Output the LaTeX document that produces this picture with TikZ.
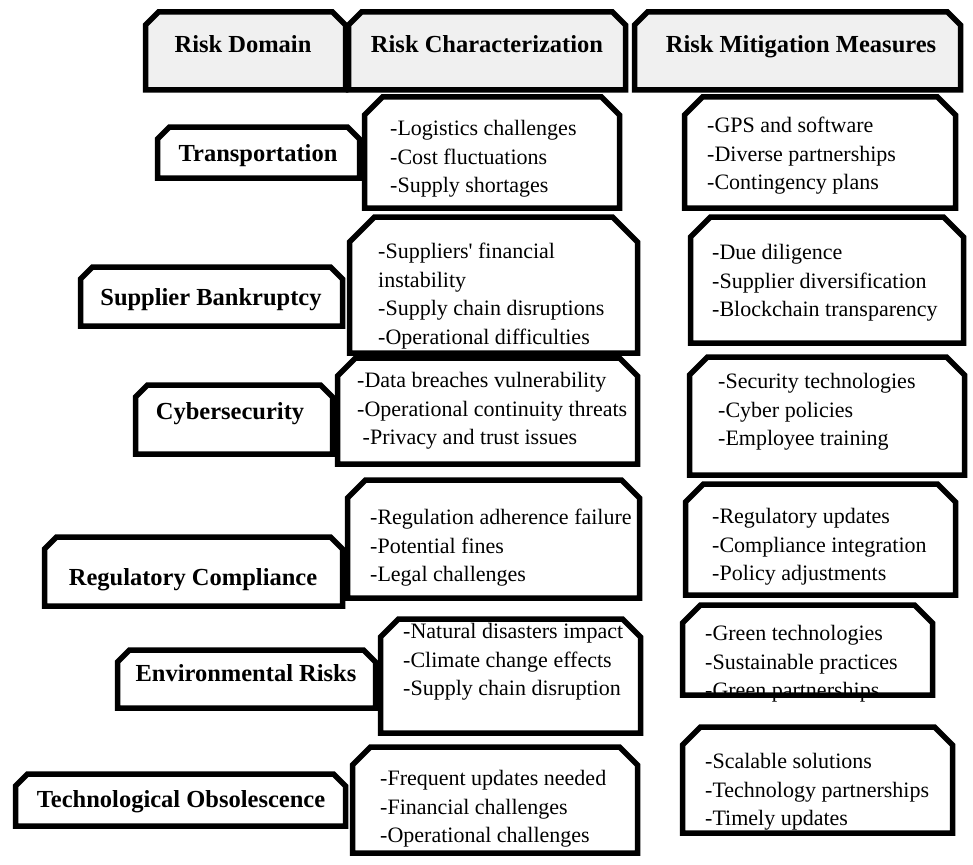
\documentclass[tikz,border=0pt]{standalone}
\usepackage{fontspec}
\setmainfont{Liberation Serif}
\tikzset{
  area/.style={inner sep=0pt, outer sep=0pt, draw=none},
  boxline/.style={draw=black, line width=5.5pt, line join=miter},
  hdrtext/.style={font=\fontsize{24.5}{28}\selectfont\bfseries, inner sep=0pt, text height=17pt, text depth=5pt},
  labtext/.style={font=\fontsize{24.5}{28}\selectfont\bfseries, inner sep=0pt, text height=17pt, text depth=5pt},
  bodytext/.style={font=\fontsize{22}{28.5}\selectfont, align=left, anchor=west, inner sep=0pt},
}
\definecolor{hdrgray}{HTML}{F0F0F0}
\newcommand{\chbox}[3]{%
  \filldraw[boxline, fill=#3] ([yshift=-#2pt]#1.north west) -- ([xshift=#2pt]#1.north west) -- ([xshift=-#2pt]#1.north east) -- ([yshift=-#2pt]#1.north east) -- (#1.south east) -- (#1.south west) -- cycle;}
\newcommand{\areanode}[5]{% name, cx, cy, w, h
  \node[area, minimum width=#4pt, minimum height=#5pt] (#1) at (#2,#3) {};}
\begin{document}
\begin{tikzpicture}[x=1pt, y=-1pt]
\useasboundingbox[fill=white] (0,0) rectangle (973,864);
% area nodes
\areanode{h1}{245.5}{51}{200}{78}
\areanode{h2}{487}{51}{277}{78}
\areanode{h3}{797.5}{51}{326}{78}
\areanode{trans}{258.5}{152.5}{202}{51}
\areanode{char1}{492}{152.5}{255}{111}
\areanode{mit1}{820}{152.5}{271}{111}
\areanode{sb}{211.5}{296.5}{262}{59}
\areanode{char2}{493.5}{285}{288}{136}
\areanode{mit2}{827}{280}{273}{126}
\areanode{cyber}{234}{419.5}{197}{69}
\areanode{char3}{487.5}{411}{300}{106}
\areanode{mit3}{827}{416}{275}{118}
\areanode{reg}{193.5}{571.5}{298}{69}
\areanode{char4}{493.5}{539}{292}{118}
\areanode{mit4}{820.5}{539.5}{270}{111}
\areanode{env}{246.5}{679}{258}{58}
\areanode{char5}{510.5}{676}{260}{114}
\areanode{mit5}{807.5}{650}{250}{90}
\areanode{tech}{180.5}{800}{330}{52}
\areanode{char6}{495}{800}{285}{106}
\areanode{mit6}{817.5}{780}{270}{106}
% boxes
\chbox{h1}{13}{hdrgray}
\chbox{h2}{13}{hdrgray}
\chbox{h3}{13}{hdrgray}
\chbox{trans}{12}{white}
\chbox{char1}{18}{white}
\chbox{mit1}{18}{white}
\chbox{sb}{12}{white}
\chbox{char2}{25}{white}
\chbox{mit2}{20}{white}
\chbox{cyber}{12}{white}
\chbox{char3}{18}{white}
\chbox{mit3}{18}{white}
\chbox{reg}{12}{white}
\chbox{char4}{18}{white}
\chbox{mit4}{18}{white}
\chbox{env}{12}{white}
\chbox{char5}{18}{white}
\chbox{mit5}{18}{white}
\chbox{tech}{12}{white}
\chbox{char6}{18}{white}
\chbox{mit6}{18}{white}
% header texts
\node[hdrtext] (h1t) at (243,47) {Risk Domain};
\node[hdrtext] (h2t) at (487,47) {Risk Characterization};
\node[hdrtext] (h3t) at (801,47) {Risk Mitigation Measures};
% row labels
\node[labtext] (transt) at (258,155) {Transportation};
\node[labtext] (sbt) at (211,299) {Supplier Bankruptcy};
\node[labtext] (cybert) at (230,413) {Cybersecurity};
\node[labtext] (regt) at (193,579) {Regulatory Compliance};
\node[labtext] (envt) at (246,675) {Environmental Risks};
\node[labtext] (techt) at (181,801) {Technological Obsolescence};
% characterization texts
\node[bodytext] (char1t) at (390,159) {-Logistics challenges\\-Cost fluctuations\\-Supply shortages};
\node[bodytext] (char2t) at (378,296) {-Suppliers\textquotesingle{} financial\\instability\\-Supply chain disruptions\\-Operational difficulties};
\node[bodytext] (char3t) at (357,411) {-Data breaches vulnerability\\-Operational continuity threats\\\ -Privacy and trust issues};
\node[bodytext] (char4t) at (370,548) {-Regulation adherence failure\\-Potential fines\\-Legal challenges};
\node[bodytext] (char5t) at (403,662) {-Natural disasters impact\\-Climate change effects\\-Supply chain disruption};
\node[bodytext] (char6t) at (380,809) {-Frequent updates needed\\-Financial challenges\\-Operational challenges};
% mitigation texts
\node[bodytext] (mit1t) at (707,156) {-GPS and software\\-Diverse partnerships\\-Contingency plans};
\node[bodytext] (mit2t) at (712,283) {-Due diligence\\-Supplier diversification\\-Blockchain transparency};
\node[bodytext] (mit3t) at (718,412) {-Security technologies\\-Cyber policies\\-Employee training};
\node[bodytext] (mit4t) at (712,547) {-Regulatory updates\\-Compliance integration\\-Policy adjustments};
\node[bodytext] (mit5t) at (705,664) {-Green technologies\\-Sustainable practices\\-Green partnerships};
\node[bodytext] (mit6t) at (705,792) {-Scalable solutions\\-Technology partnerships\\-Timely updates};
\end{tikzpicture}
\end{document}
